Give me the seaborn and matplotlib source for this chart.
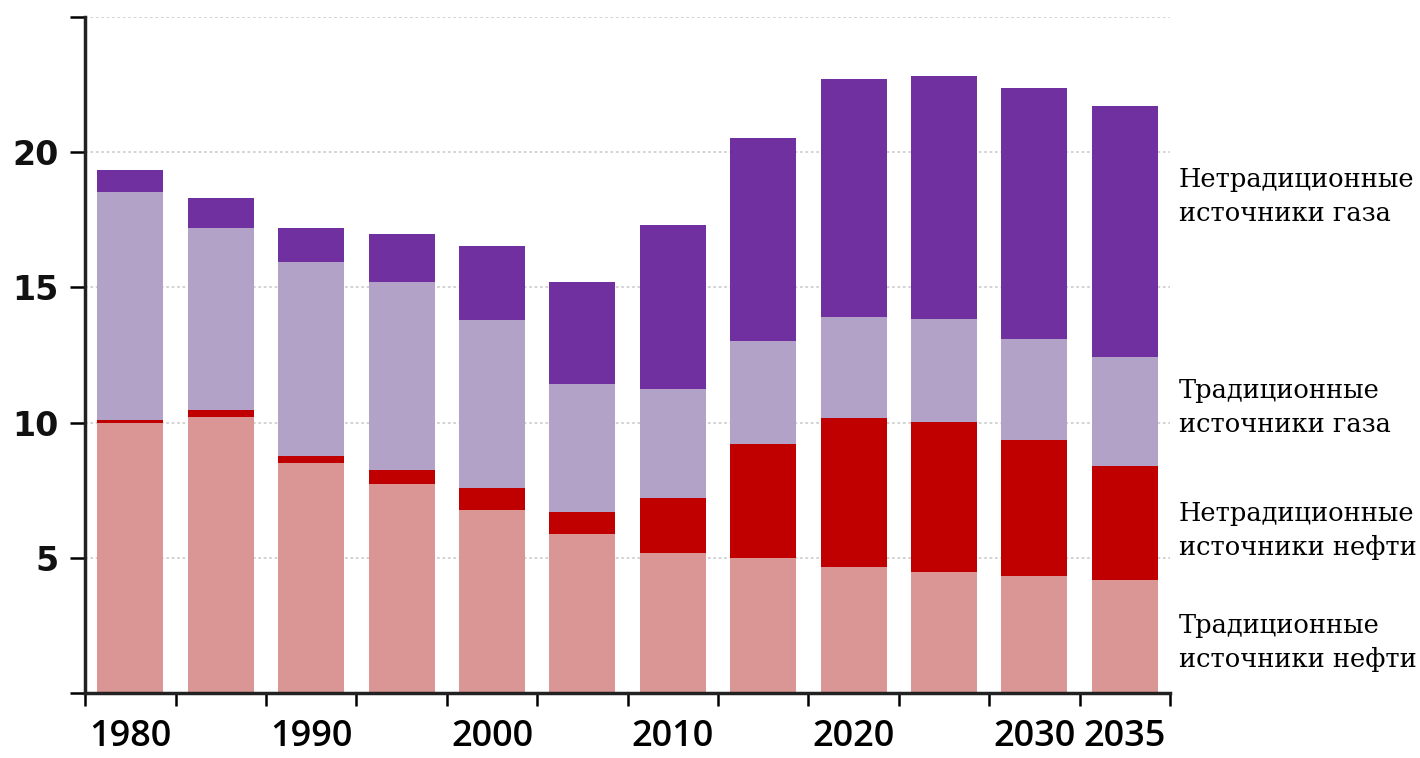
import numpy as np
import matplotlib
matplotlib.use('Agg')
import matplotlib.pyplot as plt
import seaborn as sns

# данные
years = ['1980', '1985', '1990', '1995', '2000', '2005',
         '2010', '2015', '2020', '2025', '2030', '2035']
trad_oil = [10.0, 10.22, 8.52, 7.73, 6.77, 5.88, 5.19, 5.0, 4.67, 4.48, 4.32, 4.16]
unconv_oil = [0.08, 0.25, 0.25, 0.5, 0.81, 0.81, 2.01, 4.22, 5.51, 5.55, 5.03, 4.23]
trad_gas = [8.45, 6.73, 7.16, 6.97, 6.2, 4.74, 4.03, 3.78, 3.71, 3.8, 3.74, 4.03]
unconv_gas = [0.8, 1.11, 1.27, 1.78, 2.74, 3.76, 6.08, 7.51, 8.8, 9.0, 9.29, 9.28]

tick_labels = ['1980', '', '1990', '', '2000', '', '2010', '', '2020', '', '2030', '2035']
series_names = ['Традиционные\nисточники нефти', 'Нетрадиционные\nисточники нефти',
                'Традиционные\nисточники газа', 'Нетрадиционные\nисточники газа']
colors = ['#D99694', '#C00000', '#B3A2C7', '#7030A0']

layers = [trad_oil, unconv_oil, trad_gas, unconv_gas]
cum = np.cumsum(np.array(layers), axis=0)

fig = plt.figure(figsize=(14.2, 7.58), dpi=100)
ax = fig.add_axes([0.06, 0.0858, 0.764, 0.892])

# рисуем от самого высокого слоя к нижнему
for i in range(3, -1, -1):
    sns.barplot(x=years, y=cum[i], color=colors[i], saturation=1,
                width=0.73, ax=ax, zorder=2)

ax.set_xlim(-0.5, 11.5)
ax.set_ylim(0, 25)
ax.set_xlabel('')
ax.set_ylabel('')

# сетка
for g in [5, 10, 15, 20, 25]:
    ax.axhline(g, color='#d0d0d0', linestyle=(0, (1.5, 1.5)), linewidth=1.3, zorder=0)

# оси
for s in ['top', 'right']:
    ax.spines[s].set_visible(False)
for s in ['left', 'bottom']:
    ax.spines[s].set_color('#222222')
    ax.spines[s].set_linewidth(2.5)

ax.set_yticks([0, 5, 10, 15, 20, 25])
ax.set_yticklabels(['', '5', '10', '15', '20', ''], fontsize=24,
                   fontfamily='DejaVu Sans', fontweight='bold', color='#111111')
ax.tick_params(axis='y', direction='out', length=11, width=1.8, pad=8)

ax.set_xticks(np.arange(-0.5, 12, 1))
ax.set_xticklabels([])
ax.tick_params(axis='x', which='major', direction='out', length=9, width=1.8)
ax.set_xticks(np.arange(12), minor=True)
ax.set_xticklabels(tick_labels, minor=True, fontsize=26, fontfamily='Open Sans',
                   fontweight='semibold')
ax.tick_params(axis='x', which='minor', length=0, pad=19)

# подписи справа
label_y = [1.85, 5.99, 10.54, 18.34]
for name, y in zip(series_names, label_y):
    ax.text(11.6, y, name, fontsize=18.5, fontfamily='DejaVu Serif',
            va='center', ha='left', linespacing=1.45, clip_on=False)

fig.savefig('out.png', dpi=100)
